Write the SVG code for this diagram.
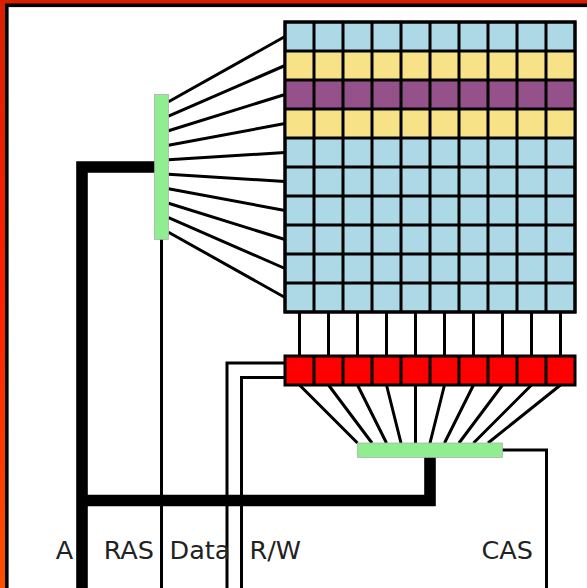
<svg xmlns="http://www.w3.org/2000/svg" width="587" height="588" viewBox="0 0 587 588">
<style>
.w{fill:none;stroke:#000;stroke-width:3}
.t{fill:none;stroke:#000;stroke-width:11.6}
.c{stroke:#000;stroke-width:3}
.g{fill:#90ee90;stroke:#aaa;stroke-width:.7}
text{font-family:"DejaVu Sans",sans-serif;font-size:25.5px;fill:#222}
</style>
<defs>
<linearGradient id="f" x1="0" y1="0" x2="0" y2="1"><stop offset="0" stop-color="#d82000"/><stop offset=".5" stop-color="#ff2000"/><stop offset="1" stop-color="#ff5000"/></linearGradient>
</defs>
<rect width="587" height="588" fill="url(#f)"/>
<rect x="6.800" y="5.300" width="590" height="600" fill="#fff" stroke="#000" stroke-width="3.600"/>
<g id="connectors">
<path class="t" d="M161 167H82V588M82 500.500H430V457"/>
<path class="w" d="M161.500 239V588M285 363H227V588M285 377.500H241.500V588M502 450H546.500V588"/>
<path class="w" d="M168.500 101.700L285 36.500M168.500 116.200L285 65.500M168.500 130.700L285 94.500M168.500 145.200L285 123.500M168.500 159.700L285 152.500M168.500 174.200L285 181.500M168.500 188.700L285 210.500M168.500 203.200L285 239.500M168.500 217.700L285 268.500M168.500 232.200L285 297.500"/>
<path class="w" d="M299.500 312V356M328.500 312V356M357.500 312V356M386.500 312V356M415.500 312V356M444.500 312V356M473.500 312V356M502.500 312V356M531.500 312V356M560.500 312V356"/>
<path class="w" d="M299.500 385L357.500 443M328.500 385L372 443M357.500 385L386.500 443M386.500 385L401 443M415.500 385V443M444.500 385L430 443M473.500 385L444.500 443M502.500 385L459 443M531.500 385L473.500 443M560.500 385L488 443"/>
</g>
<g id="memory-array">
<rect class="c" x="285" y="22" width="290" height="290" fill="#add8e6"/>
<rect x="285" y="51" width="290" height="29" fill="#f8e287"/>
<rect x="285" y="80" width="290" height="29" fill="#955189"/>
<rect x="285" y="109" width="290" height="29" fill="#f8e287"/>
<path class="w" d="M285 22H575V312H285ZM314 22V312M343 22V312M372 22V312M401 22V312M430 22V312M459 22V312M488 22V312M517 22V312M546 22V312M285 51H575M285 80H575M285 109H575M285 138H575M285 167H575M285 196H575M285 225H575M285 254H575M285 283H575"/>
</g>
<g id="row-buffer">
<rect class="c" x="285" y="356" width="290" height="29" fill="#f00"/>
<path class="w" d="M314 356V385M343 356V385M372 356V385M401 356V385M430 356V385M459 356V385M488 356V385M517 356V385M546 356V385"/>
</g>
<g id="row-decoder"><rect class="g" x="154.500" y="94.500" width="14" height="145"/></g>
<g id="column-decoder"><rect class="g" x="357.500" y="443" width="145" height="14.500"/></g>
<g id="labels">
<text x="55.700" y="558.500">A</text>
<text x="103.700" y="558.500">RAS</text>
<text x="169.500" y="558.500">Data</text>
<text x="249.500" y="558.500">R/W</text>
<text x="481.500" y="558.500">CAS</text>
</g>
</svg>
